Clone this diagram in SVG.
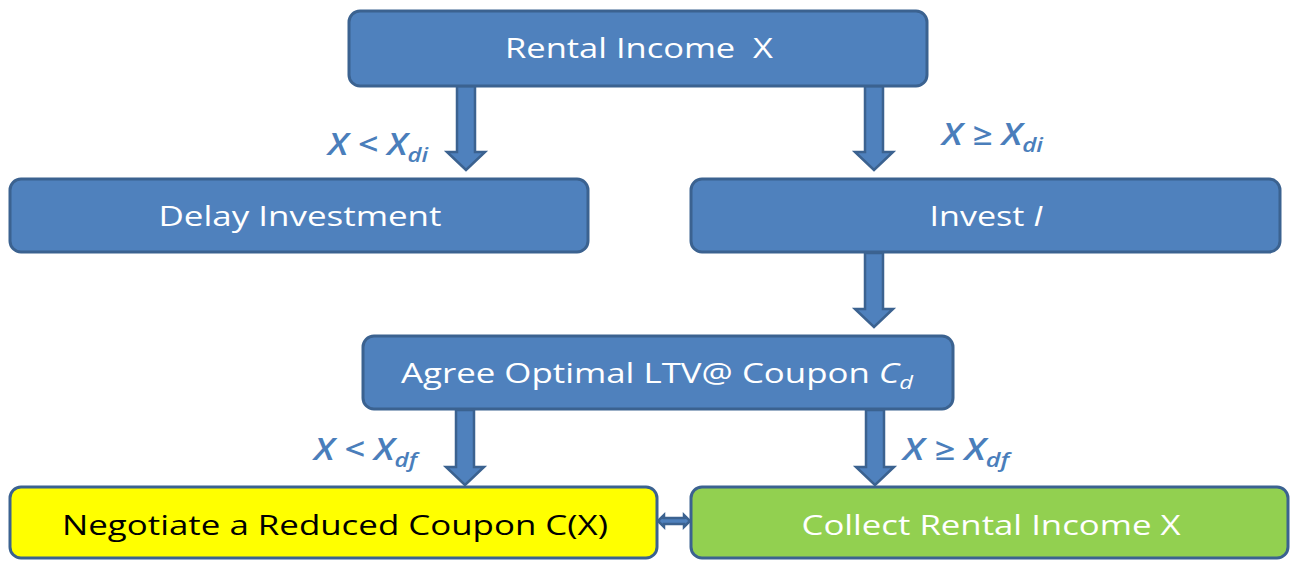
<svg xmlns="http://www.w3.org/2000/svg" width="1300" height="561" viewBox="0 0 1300 561">
<defs>
<style>
.box{fill:#4F81BD;stroke:#3B6290;stroke-width:3}
.arr{fill:#4F81BD;stroke:#3B6290;stroke-width:2.5;stroke-linejoin:miter}
.t{font-family:"Open Sans","Liberation Sans",sans-serif;font-size:28px;fill:#FFFFFF;text-anchor:middle}
.lbl{font-family:"Open Sans","Liberation Sans",sans-serif;font-size:30px;font-weight:600;font-style:italic;fill:#4A7EBB}
.sub{font-size:20px}
</style>
</defs>
<rect width="1300" height="561" fill="#FFFFFF"/>
<g id="connectors">
<path class="arr" d="M457,86 V152 H447 L466,170 L485,152 H475 V86 Z"/>
<path class="arr" d="M865,86 V152 H855 L874,170 L893,152 H883 V86 Z"/>
<path class="arr" d="M865,253 V309 H855 L874,327 L893,309 H883 V253 Z"/>
<path class="arr" d="M456,410 V467 H446 L465,485 L484,467 H474 V410 Z"/>
<path class="arr" d="M866,410 V467 H856 L875,485 L894,467 H884 V410 Z"/>
<path class="arr" d="M658,521 L664,515 V518 H684 V515 L690,521 L684,527 V524 H664 V527 Z"/>
</g>
<g id="n-rental">
<rect class="box" x="349" y="11" width="578" height="75" rx="11"/>
<text class="t" x="639" y="58" textLength="268" lengthAdjust="spacingAndGlyphs">Rental Income&#160; X</text>
</g>
<g id="n-delay">
<rect class="box" x="10" y="179" width="578" height="73" rx="11"/>
<text class="t" x="300" y="226" textLength="283" lengthAdjust="spacingAndGlyphs">Delay Investment</text>
</g>
<g id="n-invest">
<rect class="box" x="691" y="179" width="589" height="73" rx="11"/>
<text class="t" x="986" y="226" textLength="113" lengthAdjust="spacingAndGlyphs">Invest <tspan font-style="italic">I</tspan></text>
</g>
<g id="n-agree">
<rect class="box" x="363" y="336" width="590" height="73" rx="11"/>
<text class="t" x="657" y="383" textLength="512" lengthAdjust="spacingAndGlyphs">Agree Optimal LTV@ Coupon <tspan font-style="italic">C</tspan><tspan font-style="italic" font-size="19" dy="6">d</tspan></text>
</g>
<g id="n-negotiate">
<rect x="10" y="487" width="647" height="71" rx="11" fill="#FFFF00" stroke="#3B6290" stroke-width="3"/>
<text class="t" x="335" y="535" style="fill:#000000" textLength="546" lengthAdjust="spacingAndGlyphs">Negotiate a Reduced Coupon C(X)</text>
</g>
<g id="n-collect">
<rect x="691" y="487" width="597" height="71" rx="11" fill="#92D050" stroke="#3B6290" stroke-width="3"/>
<text class="t" x="991" y="535" textLength="379" lengthAdjust="spacingAndGlyphs">Collect Rental Income X</text>
</g>
<g id="labels">
<text class="lbl" x="328" y="155" textLength="100" lengthAdjust="spacingAndGlyphs">X &lt; X<tspan class="sub" dy="7">di</tspan></text>
<text class="lbl" x="942" y="145" textLength="101" lengthAdjust="spacingAndGlyphs">X ≥ X<tspan class="sub" dy="7">di</tspan></text>
<text class="lbl" x="314" y="460" textLength="103" lengthAdjust="spacingAndGlyphs">X &lt; X<tspan class="sub" dy="7">df</tspan></text>
<text class="lbl" x="903" y="460" textLength="106" lengthAdjust="spacingAndGlyphs">X ≥ X<tspan class="sub" dy="7">df</tspan></text>
</g>
</svg>
